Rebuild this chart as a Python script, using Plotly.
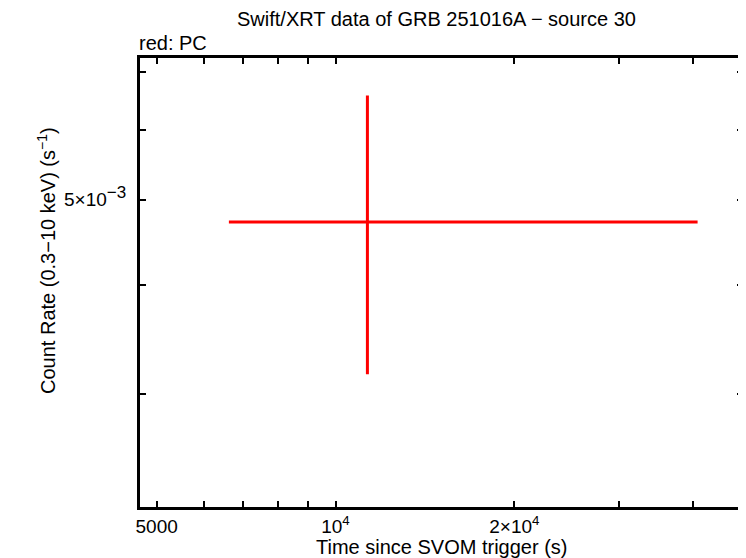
import math
import plotly.graph_objects as go

# data
t_mid = [11316.0]
t_lo = [6615.0]
t_hi = [40690.0]
rate = [4.717e-3]
rate_lo = [3.16e-3]
rate_hi = [6.58e-3]

x_tickvals = [5000, 6000, 7000, 8000, 9000, 10000, 20000, 30000, 40000]
x_ticktext = ["5000", "", "", "", "", "10<sup>4</sup>", "2×10<sup>4</sup>", "", ""]
y_tickvals = [3e-3, 4e-3, 5e-3, 6e-3, 7e-3]
y_ticktext = ["", "", "5×10<sup><span style='font-size:17px'>−3</span></sup>", "", ""]

x_range = [4687, 48520]
y_range = [2.228e-3, 7.26e-3]

fig = go.Figure()
fig.add_trace(go.Scatter(
    x=t_mid, y=rate, mode="markers",
    marker=dict(size=1, color="red"),
    error_x=dict(type="data", symmetric=False,
                 array=[h - m for h, m in zip(t_hi, t_mid)],
                 arrayminus=[m - l for m, l in zip(t_mid, t_lo)],
                 color="red", thickness=3, width=0),
    error_y=dict(type="data", symmetric=False,
                 array=[h - m for h, m in zip(rate_hi, rate)],
                 arrayminus=[m - l for m, l in zip(rate, rate_lo)],
                 color="red", thickness=3, width=0),
    showlegend=False,
))

font = "Liberation Sans, Arial, Helvetica, sans-serif"
# page body has an 8px margin, so the figure is drawn 8px smaller and offset
fig.update_layout(
    width=738, height=550,
    margin=dict(l=132, r=3, t=50, b=51, autoexpand=False),
    paper_bgcolor="white", plot_bgcolor="white",
    font=dict(family=font, color="black", size=19),
    annotations=[
        dict(text="Swift/XRT data of GRB 251016A − source 30", xref="paper", yref="paper",
             x=0.491, y=1.087, xanchor="center", yanchor="middle",
             showarrow=False, font=dict(size=20)),
        dict(text="red: PC", xref="paper", yref="paper",
             x=-0.005, y=1.0334, xanchor="left", yanchor="middle",
             showarrow=False, font=dict(size=20)),
        dict(text="Time since SVOM trigger (s)", xref="paper", yref="paper",
             x=0.5, y=-0.089, xanchor="center", yanchor="middle",
             showarrow=False, font=dict(size=20)),
        dict(text="Count Rate (0.3−10 keV) (s<sup>−1</sup>)", xref="paper", yref="paper",
             x=-0.156, y=0.55, xanchor="center", yanchor="middle", textangle=-90,
             showarrow=False, font=dict(size=20)),
    ],
)
fig.update_xaxes(
    type="log", range=[math.log10(v) for v in x_range],
    tickvals=x_tickvals, ticktext=x_ticktext,
    ticks="inside", ticklen=6, tickwidth=2, tickcolor="black",
    showline=True, linewidth=3, linecolor="black", mirror="ticks",
    showgrid=False, zeroline=False, automargin=False,
    tickfont=dict(size=19),
)
fig.update_yaxes(
    type="log", range=[math.log10(v) for v in y_range],
    tickvals=y_tickvals, ticktext=y_ticktext,
    ticks="inside", ticklen=6, tickwidth=2, tickcolor="black",
    showline=True, linewidth=3, linecolor="black", mirror="ticks",
    showgrid=False, zeroline=False, automargin=False,
    ticklabelstandoff=7,
    tickfont=dict(size=19),
)

fig.write_html("out.html")
